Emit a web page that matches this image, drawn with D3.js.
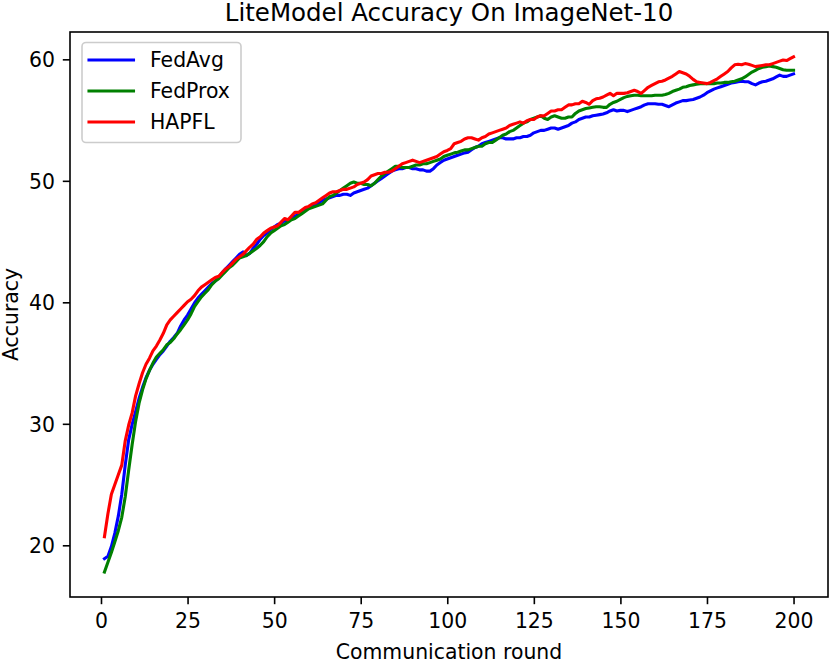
<!DOCTYPE html>
<html>
<head>
<meta charset="utf-8">
<script src="https://cdn.jsdelivr.net/npm/d3@7"></script>
<style>
  html, body { margin: 0; padding: 0; background: #fff; }
  svg { display: block; }
  text { font-family: "DejaVu Sans", sans-serif; fill: #000; }
</style>
</head>
<body>
<svg id="chart" width="829" height="662"></svg>
<script>
const seriesNames = ["FedAvg", "FedProx", "HAPFL"];
const seriesColors = ["#0000ff", "#008000", "#ff0000"];
const xTicks = [0, 25, 50, 75, 100, 125, 150, 175, 200];
const yTicks = [20, 30, 40, 50, 60];

const fedAvg = [18.9,19.1,19.9,21.0,22.4,24.2,26.6,28.7,29.95,31.0,
32.1,33.0,33.8,34.4,34.9,35.3,35.7,36.0,36.4,36.8,
37.1,37.45,38.05,38.55,38.95,39.45,39.95,40.35,40.65,40.95,
41.25,41.55,41.75,42.05,42.45,42.75,43.05,43.35,43.65,43.95,
44.15,43.85,44.05,44.45,44.8,45.2,45.5,45.7,46.0,46.2,
46.4,46.5,46.7,46.8,46.9,47.1,47.2,47.4,47.6,47.8,
47.9,48.0,48.2,48.4,48.5,48.6,48.7,48.8,48.8,48.9,
48.9,48.8,49.0,49.1,49.2,49.3,49.4,49.6,49.8,50.0,
50.2,50.4,50.6,50.8,50.9,51.0,51.0,51.1,51.1,51.0,
51.0,50.9,50.9,50.8,50.8,51.0,51.3,51.5,51.7,51.8,
51.9,52.0,52.1,52.2,52.3,52.35,52.55,52.75,52.85,53.05,
53.15,53.25,53.35,53.45,53.55,53.55,53.45,53.45,53.45,53.55,
53.55,53.65,53.65,53.75,53.95,54.05,54.15,54.15,54.25,54.35,
54.35,54.25,54.35,54.45,54.55,54.75,54.85,55.05,55.15,55.25,
55.25,55.35,55.4,55.45,55.5,55.6,55.75,55.85,55.75,55.8,
55.8,55.7,55.8,55.9,56.0,56.1,56.25,56.35,56.35,56.35,
56.3,56.3,56.2,56.1,56.25,56.4,56.5,56.6,56.6,56.65,
56.7,56.8,56.9,57.05,57.25,57.4,57.55,57.65,57.75,57.85,
57.95,58.05,58.1,58.15,58.2,58.15,58.15,58.0,57.9,58.05,
58.15,58.2,58.3,58.4,58.55,58.7,58.6,58.6,58.7,58.8];

const fedProx = [17.8,18.6,19.4,20.3,21.2,22.3,24.0,26.2,28.3,30.2,
31.7,32.8,33.7,34.4,35.0,35.5,35.8,36.1,36.5,36.7,
37.0,37.4,37.75,38.15,38.55,39.05,39.65,40.05,40.45,40.75,
41.05,41.45,41.75,41.95,42.25,42.55,42.85,43.05,43.35,43.65,
43.75,43.85,44.05,44.25,44.45,44.7,45.0,45.4,45.7,45.9,
46.1,46.3,46.4,46.6,46.8,46.9,47.1,47.3,47.5,47.7,
47.8,47.9,48.0,48.1,48.4,48.7,48.8,49.0,49.2,49.4,
49.6,49.8,49.9,49.8,49.8,49.7,49.7,49.6,49.8,50.1,
50.4,50.6,50.8,51.0,51.2,51.2,51.1,51.1,51.1,51.2,
51.3,51.3,51.4,51.4,51.5,51.6,51.7,51.8,52.0,52.1,
52.2,52.3,52.35,52.45,52.55,52.55,52.65,52.75,52.85,52.85,
53.05,53.15,53.15,53.35,53.55,53.75,53.85,54.05,54.15,54.35,
54.55,54.75,54.85,55.05,55.15,55.25,55.35,55.15,55.05,55.25,
55.35,55.25,55.15,55.15,55.25,55.25,55.55,55.75,55.85,55.95,
56.0,56.05,56.1,56.1,56.05,56.05,56.3,56.45,56.55,56.7,
56.85,56.95,57.0,57.05,57.05,57.0,57.0,57.0,57.0,57.05,
57.05,57.05,57.1,57.2,57.35,57.45,57.55,57.7,57.75,57.85,
57.9,57.95,58.0,58.0,58.0,58.0,58.0,58.05,58.05,58.1,
58.1,58.15,58.2,58.3,58.4,58.55,58.75,58.95,59.1,59.25,
59.35,59.4,59.45,59.4,59.35,59.25,59.15,59.1,59.1,59.1];

const hapfl = [20.7,22.6,24.2,25.0,25.8,26.6,28.6,29.9,30.9,32.3,
33.3,34.2,34.9,35.4,36.0,36.4,36.9,37.45,38.15,38.55,
38.85,39.15,39.45,39.75,40.05,40.25,40.55,40.95,41.25,41.45,
41.65,41.85,42.05,42.15,42.45,42.75,42.95,43.25,43.55,43.75,
43.95,44.25,44.55,44.8,45.2,45.4,45.7,45.9,46.1,46.2,
46.3,46.6,46.9,46.8,47.1,47.4,47.4,47.6,47.8,47.9,
48.1,48.2,48.4,48.6,48.8,49.0,49.1,49.1,49.2,49.3,
49.3,49.4,49.5,49.7,49.8,49.9,50.1,50.4,50.5,50.6,
50.6,50.7,50.7,50.8,51.0,51.2,51.4,51.5,51.6,51.7,
51.6,51.5,51.6,51.7,51.8,51.9,52.0,52.2,52.4,52.5,
52.65,53.05,53.15,53.25,53.45,53.55,53.55,53.45,53.35,53.55,
53.65,53.85,53.95,54.05,54.15,54.25,54.35,54.55,54.65,54.75,
54.85,54.75,54.95,55.05,55.05,55.25,55.35,55.35,55.55,55.75,
55.75,55.85,55.85,56.05,56.25,56.25,56.35,56.35,56.55,56.45,
56.3,56.6,56.75,56.8,56.9,57.05,57.2,57.0,57.2,57.2,
57.2,57.25,57.35,57.45,57.35,57.2,57.45,57.7,57.85,58.0,
58.15,58.2,58.3,58.45,58.6,58.8,59.0,58.9,58.8,58.6,
58.35,58.15,58.1,58.05,58.0,58.1,58.25,58.4,58.6,58.8,
59.0,59.3,59.55,59.6,59.55,59.65,59.6,59.5,59.4,59.45,
59.5,59.55,59.55,59.65,59.75,59.85,59.95,59.9,60.05,60.2];

const seriesValues = [fedAvg, fedProx, hapfl];

const svg = d3.select("#chart");
const padL = 70, padR = 828, padT = 32, padB = 597;

const x = d3.scaleLinear().domain([-8.95, 209.95]).range([padL, padR]);
const y = d3.scaleLinear().domain([15.745, 62.25]).range([padB, padT]);

const FS = 20.4;

// lines
const line = d3.line().x(d => x(d[0])).y(d => y(d[1]));
const plot = svg.append("g");
plot.append("defs").append("clipPath").attr("id", "clip")
  .append("rect").attr("x", padL).attr("y", padT).attr("width", padR - padL).attr("height", padB - padT);
seriesValues.forEach((vals, k) => {
  const pts = vals.map((v, i) => [i + 1, v]);
  plot.append("path")
    .datum(pts)
    .attr("clip-path", "url(#clip)")
    .attr("fill", "none")
    .attr("stroke", seriesColors[k])
    .attr("stroke-width", 3.1)
    .attr("stroke-linejoin", "round")
    .attr("stroke-linecap", "square")
    .attr("d", line);
});

// axes
const xAxis = d3.axisBottom(x).tickValues(xTicks).tickSize(7.2).tickFormat(d3.format("d"));
const gx = svg.append("g").attr("transform", `translate(0,${padB})`).call(xAxis);
gx.select(".domain").remove();
gx.selectAll(".tick line").attr("stroke", "#000").attr("stroke-width", 1.6);
gx.selectAll(".tick text")
  .attr("y", 31).attr("dy", null)
  .style("font-size", FS + "px").style("font-family", "DejaVu Sans").attr("fill", "#000");

const yAxis = d3.axisLeft(y).tickValues(yTicks).tickSize(7.2).tickFormat(d3.format("d"));
const gy = svg.append("g").attr("transform", `translate(${padL},0)`).call(yAxis);
gy.select(".domain").remove();
gy.selectAll(".tick line").attr("stroke", "#000").attr("stroke-width", 1.6);
gy.selectAll(".tick text")
  .attr("x", -15).attr("dy", "0.365em")
  .style("font-size", FS + "px").style("font-family", "DejaVu Sans").attr("fill", "#000");

// spines
svg.append("rect")
  .attr("x", padL).attr("y", padT)
  .attr("width", padR - padL).attr("height", padB - padT)
  .attr("fill", "none").attr("stroke", "#000").attr("stroke-width", 1.6);

// title & labels
svg.append("text")
  .attr("x", (padL + padR) / 2).attr("y", 21)
  .attr("text-anchor", "middle")
  .style("font-size", "24.5px")
  .text("LiteModel Accuracy On ImageNet-10");

svg.append("text")
  .attr("x", (padL + padR) / 2).attr("y", 659)
  .attr("text-anchor", "middle")
  .style("font-size", FS + "px")
  .text("Communication round");

svg.append("text")
  .attr("transform", `translate(17.5,${(padT + padB) / 2}) rotate(-90)`)
  .attr("text-anchor", "middle")
  .style("font-size", FS + "px")
  .text("Accuracy");

// legend
const lg = svg.append("g");
lg.append("rect")
  .attr("x", 82).attr("y", 42.5).attr("width", 159).attr("height", 100)
  .attr("rx", 4).attr("ry", 4)
  .attr("fill", "#fff").attr("fill-opacity", 0.8)
  .attr("stroke", "#cccccc").attr("stroke-width", 1.6);
seriesNames.forEach((name, k) => {
  const ly = 60 + k * 31;
  lg.append("line")
    .attr("x1", 89).attr("x2", 133.5).attr("y1", ly).attr("y2", ly)
    .attr("stroke", seriesColors[k]).attr("stroke-width", 3.1)
    .attr("stroke-linecap", "square");
  lg.append("text")
    .attr("x", 150).attr("y", ly).attr("dy", "0.365em")
    .style("font-size", FS + "px")
    .text(name);
});
</script>
</body>
</html>
